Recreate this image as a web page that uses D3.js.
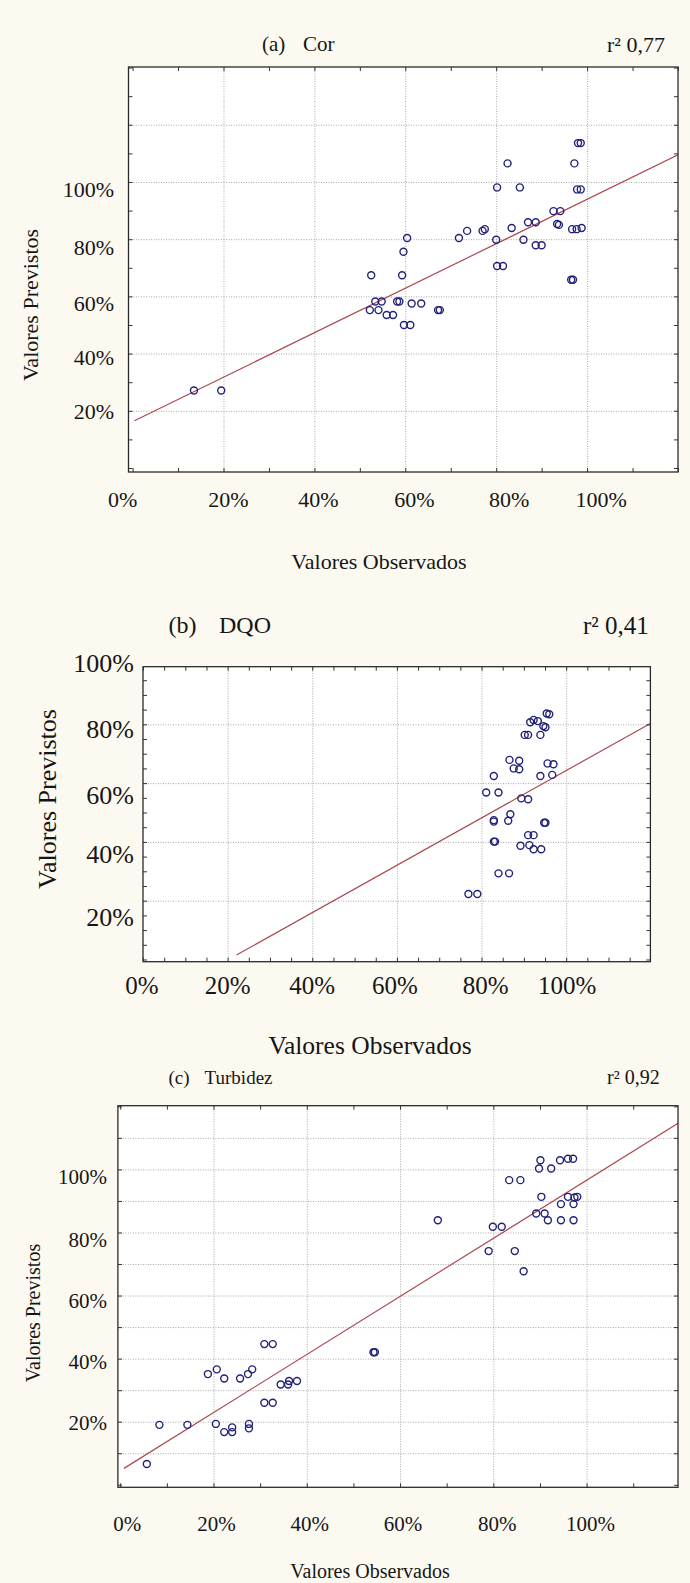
<!DOCTYPE html>
<html>
<head>
<meta charset="utf-8">
<script src="https://cdn.jsdelivr.net/npm/d3@7"></script>
<style>
  html, body { margin: 0; padding: 0; background: #fcf9f0; }
  svg { display: block; font-family: "Liberation Serif", "Times New Roman", serif; }
</style>
</head>
<body>
<div id="chart"></div>
<script>
// (a) Cor
const corObserved = [98.0, 98.6, 82.5, 97.2, 80.2, 85.2, 97.8, 98.6, 92.6, 94.1,
  93.4, 93.8, 87.0, 88.7, 83.4, 96.7, 97.7, 98.8, 73.6, 71.8,
  77.0, 77.5, 80.0, 86.0, 88.7, 90.0, 80.2, 81.5, 96.5, 96.9,
  60.4, 59.6, 52.5, 59.3, 53.4, 54.8, 58.2, 58.7, 61.4, 63.5,
  52.2, 54.1, 67.2, 67.6, 55.9, 57.3, 59.7, 61.1, 13.5, 19.5];
const corPredicted = [113.6, 113.6, 106.5, 106.5, 98.1, 98.1, 97.4, 97.4, 89.8, 89.8,
  85.3, 85.0, 85.9, 85.9, 83.9, 83.5, 83.5, 83.9, 82.9, 80.4,
  82.9, 83.5, 79.8, 79.8, 77.9, 77.9, 70.6, 70.6, 65.8, 65.8,
  80.4, 75.6, 67.4, 67.4, 58.2, 58.2, 58.2, 58.2, 57.5, 57.5,
  55.2, 55.2, 55.2, 55.2, 53.5, 53.5, 50.0, 50.0, 27.1, 27.1];
const corFitX = [0.4, 120];
const corFitY = [16.5, 109.5];

// (b) DQO
const dqoObserved = [95.4, 96.0, 91.5, 93.3, 92.3, 94.6, 95.1, 90.2, 91.0, 93.9,
  86.6, 88.9, 87.6, 88.9, 95.6, 97.0, 93.9, 96.7, 82.9, 81.1,
  84.0, 89.4, 91.0, 82.9, 82.9, 86.3, 86.8, 94.8, 95.1, 82.9,
  83.2, 91.0, 92.3, 89.2, 91.3, 92.3, 94.1, 84.0, 86.5, 76.9, 79.0];
const dqoPredicted = [83.7, 83.4, 80.7, 81.1, 81.5, 79.4, 79.0, 76.4, 76.4, 76.4,
  67.9, 67.6, 65.0, 64.7, 66.7, 66.4, 62.4, 62.8, 62.4, 56.8,
  56.8, 54.8, 54.5, 47.4, 46.9, 47.2, 49.4, 46.5, 46.5, 40.1,
  40.1, 42.3, 42.3, 38.7, 38.9, 37.5, 37.5, 29.3, 29.3, 22.3, 22.3];
const dqoFitX = [22.1, 119.9];
const dqoFitY = [1.5, 80.3];

// (c) Turbidez
const turbObserved = [90.1, 89.8, 92.4, 94.3, 96.0, 97.1, 83.4, 85.8, 90.3, 96.0,
  97.4, 98.0, 94.5, 97.2, 89.2, 91.0, 91.7, 94.5, 97.2, 68.1,
  79.9, 81.8, 79.0, 84.6, 86.5, 30.9, 32.7, 54.3, 54.6, 18.8,
  20.7, 22.3, 25.7, 27.4, 28.3, 34.4, 36.0, 36.2, 37.9, 30.9,
  32.7, 8.4, 14.4, 20.5, 22.3, 24.0, 24.0, 27.6, 27.6, 5.7];
const turbPredicted = [102.9, 100.3, 100.3, 102.9, 103.4, 103.4, 96.6, 96.6, 91.3, 91.3,
  91.1, 91.3, 89.0, 89.0, 86.0, 86.0, 83.9, 83.9, 83.9, 83.9,
  81.8, 81.8, 74.1, 74.1, 67.7, 44.6, 44.6, 42.0, 42.0, 35.1,
  36.6, 33.7, 33.7, 35.1, 36.6, 31.8, 31.8, 32.9, 32.9, 26.0,
  26.0, 19.0, 19.0, 19.3, 16.7, 18.2, 16.7, 19.3, 17.9, 6.6];
const turbFitX = [0.8, 119.6];
const turbFitY = [5.2, 114.6];

// tick labels and gridlines
const xTickLabels = [0, 20, 40, 60, 80, 100];
const yTickLabels = [20, 40, 60, 80, 100];
const verticalGrid = [20, 40, 60, 80, 100];
const corHorizontalGrid = [20, 40, 60, 80, 100, 120];
const dqoHorizontalGrid = [20, 40, 60, 80];
const turbHorizontalGrid = [10, 20, 30, 40, 50, 60, 70, 80, 90, 100, 110];

const titles = ["(a)", "(b)", "(c)"];
const names = ["Cor", "DQO", "Turbidez"];
const r2Labels = ["r\u00b2 0,77", "r\u00b2 0,41", "r\u00b2 0,92"];
const xAxisTitle = "Valores Observados";
const yAxisTitle = "Valores Previstos";

const svg = d3.select("#chart").append("svg")
  .attr("width", 690)
  .attr("height", 1583);

svg.append("rect")
  .attr("width", 690)
  .attr("height", 1583)
  .attr("fill", "#fcf9f0");

function addText(g, txt, x, y, size, anchor = "middle", rotate = false) {
  g.append("text")
    .attr("transform", `translate(${x},${y})` + (rotate ? " rotate(-90)" : ""))
    .attr("text-anchor", anchor)
    .attr("dy", "0.35em")
    .attr("font-size", size)
    .attr("fill", "#161616")
    .text(txt);
}

class ScatterPanel {
  constructor(_config, _data) {
    this.config = _config;
    this.data = _data;
    this.initVis();
  }

  initVis() {
    const vis = this;
    const c = vis.config;

    vis.g = svg.append("g").attr("class", `panel-${c.id}`);

    vis.xScale = d3.scaleLinear().domain(c.xDomain).range([c.left, c.right]);
    vis.yScale = d3.scaleLinear().domain(c.yDomain).range([c.bottom, c.top]);

    vis.g.append("rect")
      .attr("x", c.left)
      .attr("y", c.top)
      .attr("width", c.right - c.left)
      .attr("height", c.bottom - c.top)
      .attr("fill", "#ffffff");

    vis.g.append("clipPath")
      .attr("id", `clip-${c.id}`)
      .append("rect")
      .attr("x", c.left)
      .attr("y", c.top)
      .attr("width", c.right - c.left)
      .attr("height", c.bottom - c.top);

    vis.updateVis();
  }

  updateVis() {
    const vis = this;
    const c = vis.config;
    const x = vis.xScale;
    const y = vis.yScale;
    const h = c.bottom - c.top;
    const w = c.right - c.left;

    // dotted gridlines
    vis.g.append("g")
      .attr("transform", `translate(0,${c.bottom})`)
      .call(d3.axisBottom(x).tickValues(c.xGrid).tickSize(-h).tickFormat(""))
      .call((s) => s.select(".domain").remove())
      .selectAll("line")
      .attr("stroke", "#a9a9a9")
      .attr("stroke-dasharray", "1,1.5");

    vis.g.append("g")
      .attr("transform", `translate(${c.left},0)`)
      .call(d3.axisLeft(y).tickValues(c.yGrid).tickSize(-w).tickFormat(""))
      .call((s) => s.select(".domain").remove())
      .selectAll("line")
      .attr("stroke", "#a9a9a9")
      .attr("stroke-dasharray", "1,1.5");

    // regression line
    const fit = d3.zip(vis.data.fitX, vis.data.fitY);
    vis.g.append("path")
      .datum(fit)
      .attr("clip-path", `url(#clip-${c.id})`)
      .attr("fill", "none")
      .attr("stroke", "#ad4952")
      .attr("stroke-width", 1.2)
      .attr("d", d3.line().x((d) => x(d[0])).y((d) => y(d[1])));

    // points
    const points = d3.zip(vis.data.obs, vis.data.pred);
    vis.g.selectAll(".pt")
      .data(points)
      .join("circle")
      .attr("class", "pt")
      .attr("cx", (d) => x(d[0]))
      .attr("cy", (d) => y(d[1]))
      .attr("r", 3.5)
      .attr("fill", "none")
      .attr("stroke", "#22227a")
      .attr("stroke-width", 1.4);

    // frame
    vis.g.append("rect")
      .attr("x", c.left)
      .attr("y", c.top)
      .attr("width", w)
      .attr("height", h)
      .attr("fill", "none")
      .attr("stroke", "#2a2a2a")
      .attr("stroke-width", 1.3);

    // inward ticks on all four sides
    const inDomain = (dom) => (v) => v >= dom[0] - 0.01 && v <= dom[1] + 0.01;
    const xTicks = d3.range(0, 141, c.tickStep).filter(inDomain(c.xDomain));
    const yTicks = d3.range(0, 141, c.tickStep).filter(inDomain(c.yDomain));
    [
      [d3.axisBottom(x), `translate(0,${c.bottom})`, xTicks],
      [d3.axisTop(x), `translate(0,${c.top})`, xTicks],
      [d3.axisLeft(y), `translate(${c.left},0)`, yTicks],
      [d3.axisRight(y), `translate(${c.right},0)`, yTicks]
    ].forEach(([axis, tr, tv]) => {
      vis.g.append("g")
        .attr("transform", tr)
        .call(axis.tickValues(tv).tickSize(-4).tickFormat(""))
        .call((s) => s.select(".domain").remove())
        .selectAll("line")
        .attr("stroke", "#333");
    });

    // tick labels
    xTickLabels.forEach((v, i) => {
      addText(vis.g, `${v}%`, x(v) + c.xLabelNudge[i], c.xLabelY, c.tickFont);
    });
    yTickLabels.forEach((v, i) => {
      addText(vis.g, `${v}%`, c.yLabelRight, y(v) + c.yLabelNudge[i], c.yTickFont, "end");
    });

    // titles
    addText(vis.g, c.letter, c.letterX, c.titleY, c.titleFont, "start");
    addText(vis.g, c.name, c.nameX, c.titleY, c.titleFont, "start");
    addText(vis.g, c.r2, c.r2X, c.titleY, c.r2Font, "start");
    addText(vis.g, xAxisTitle, c.xTitle[0], c.xTitle[1], c.axisFont);
    addText(vis.g, yAxisTitle, c.yTitle[0], c.yTitle[1], c.yAxisFont, "middle", true);
  }
}

new ScatterPanel({
  id: "a", letter: titles[0], name: names[0], r2: r2Labels[0],
  left: 128.5, right: 678, top: 67, bottom: 472,
  xDomain: [-0.9, 120], yDomain: [-1.4, 140.2],
  tickStep: 10, xGrid: verticalGrid, yGrid: corHorizontalGrid,
  xLabelNudge: [-10, 5, 4, 9, 13, 14], xLabelY: 499,
  yLabelNudge: [1, 4, 7, 8, 7], yLabelRight: 114,
  tickFont: 22, yTickFont: 22,
  letterX: 262, nameX: 303, titleY: 44, titleFont: 21, r2X: 607, r2Font: 22,
  xTitle: [379, 561], axisFont: 22, yTitle: [30, 305], yAxisFont: 22
}, { obs: corObserved, pred: corPredicted, fitX: corFitX, fitY: corFitY });

new ScatterPanel({
  id: "b", letter: titles[1], name: names[1], r2: r2Labels[1],
  left: 143, right: 650.4, top: 666.7, bottom: 961.7,
  xDomain: [0, 119.9], yDomain: [-0.75, 99.6],
  tickStep: 5, xGrid: verticalGrid, yGrid: dqoHorizontalGrid,
  xLabelNudge: [-1, 0, 0, -2, 4, 1], xLabelY: 985,
  yLabelNudge: [16, 12, 12, 5, -3], yLabelRight: 134,
  tickFont: 25, yTickFont: 26,
  letterX: 168.5, nameX: 219, titleY: 625, titleFont: 24, r2X: 583, r2Font: 25,
  xTitle: [370, 1045], axisFont: 25.5, yTitle: [47, 799], yAxisFont: 26
}, { obs: dqoObserved, pred: dqoPredicted, fitX: dqoFitX, fitY: dqoFitY });

new ScatterPanel({
  id: "c", letter: titles[2], name: names[2], r2: r2Labels[2],
  left: 117.9, right: 678, top: 1105.7, bottom: 1487.3,
  xDomain: [-0.5, 119.6], yDomain: [-0.8, 120.2],
  tickStep: 10, xGrid: verticalGrid, yGrid: turbHorizontalGrid,
  xLabelNudge: [7, 3, 3, 3, 4, 4], xLabelY: 1524,
  yLabelNudge: [1, 3, 5, 7, 7], yLabelRight: 107,
  tickFont: 21, yTickFont: 21,
  letterX: 168.5, nameX: 204.6, titleY: 1077, titleFont: 19, r2X: 607, r2Font: 20,
  xTitle: [370, 1571], axisFont: 20, yTitle: [33, 1313], yAxisFont: 20
}, { obs: turbObserved, pred: turbPredicted, fitX: turbFitX, fitY: turbFitY });
</script>
</body>
</html>
